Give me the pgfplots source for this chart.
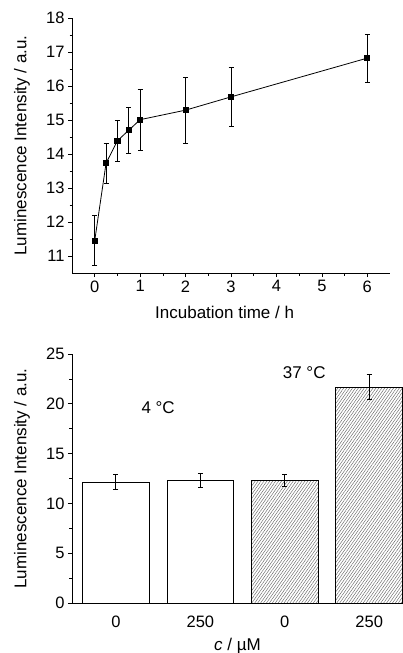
\documentclass[border=0pt]{standalone}
\usepackage{fontspec}
\setmainfont{Liberation Sans}
\usepackage{pgfplots}
\pgfplotsset{compat=1.18}
\usetikzlibrary{patterns.meta}

\pgfplotsset{
  common/.style={
    scale only axis,
    axis x line*=bottom, axis y line*=left,
    axis line style={-, line width=0.8pt},
    tick align=outside,
    major tick length=4pt, minor tick length=2.5pt,
    tick style={line width=0.7pt, black},
    /pgf/number format/assume math mode=true,
    tick label style={font=\fontsize{16.5}{19}\selectfont},
    label style={font=\fontsize{17}{20}\selectfont},
  }
}

\begin{document}
\begin{tikzpicture}
\useasboundingbox (-72pt,-380pt) rectangle (331pt,273pt);

% time course
\begin{axis}[common,
    at={(0pt,0pt)}, anchor=south west,
    width=318pt, height=255pt,
    xmin=-0.5, xmax=6.5, ymin=10.5, ymax=18,
    xtick={0,...,6}, minor x tick num=1,
    ytick={11,...,18}, minor y tick num=1,
    xlabel={Incubation time / h},
    ylabel={Luminescence Intensity / a.u.},
    xlabel style={at={(axis description cs:0.48,-0.153)}, anchor=center},
    ylabel style={at={(axis description cs:-0.157,0.5)}, anchor=center},
  ]
  \addplot[black, line width=0.8pt, mark=square*, mark size=2.6pt,
    error bars/.cd, y dir=both, y explicit,
    error bar style={line width=0.8pt},
    error mark options={rotate=90, mark size=2.5pt, line width=0.8pt}]
  coordinates {
    (0,11.45)    +- (0,0.73)
    (0.25,13.73) +- (0,0.58)
    (0.5,14.39)  +- (0,0.61)
    (0.75,14.70) +- (0,0.68)
    (1,15.01)    +- (0,0.90)
    (2,15.29)    +- (0,0.97)
    (3,15.68)    +- (0,0.86)
    (6,16.82)    +- (0,0.70)
  };
\end{axis}

% bars
\begin{axis}[common,
    at={(0pt,-330pt)}, anchor=south west,
    width=331pt, height=249pt,
    xmin=-0.52, xmax=3.4, ymin=0, ymax=25,
    xtick={0,1,2,3}, xticklabels={0,250,0,250},
    major x tick style={draw=none},
    xticklabel style={yshift=-5pt},
    ytick={0,5,...,25}, minor y tick num=1,
    xlabel={\textit{c} / µM},
    ylabel={Luminescence Intensity / a.u.},
    xlabel style={at={(axis description cs:0.5,-0.173)}, anchor=center},
    ylabel style={at={(axis description cs:-0.151,0.5)}, anchor=center},
    ybar, bar width=0.79, bar shift=0pt,
  ]
  \addplot[draw=black, fill=white, line width=0.8pt,
    error bars/.cd, y dir=both, y explicit,
    error bar style={line width=1.1pt},
    error mark options={rotate=90, mark size=2.5pt, line width=1.1pt}]
  coordinates {
    (0,12.15) +- (0,0.72)
    (1,12.30) +- (0,0.70)
  };
  \addplot[draw=black, line width=0.8pt,
    pattern={Lines[angle=55, distance=2.4pt, line width=0.45pt]}, pattern color=black!60,
    error bars/.cd, y dir=both, y explicit,
    error bar style={line width=1.1pt},
    error mark options={rotate=90, mark size=2.5pt, line width=1.1pt}]
  coordinates {
    (2,12.30) +- (0,0.63)
    (3,21.68) +- (0,1.25)
  };
  \node[font=\fontsize{17}{20}\selectfont] at (axis cs:0.50,19.6) {4 °C};
  \node[font=\fontsize{17}{20}\selectfont] at (axis cs:2.23,23.1) {37 °C};
\end{axis}
\end{tikzpicture}
\end{document}
